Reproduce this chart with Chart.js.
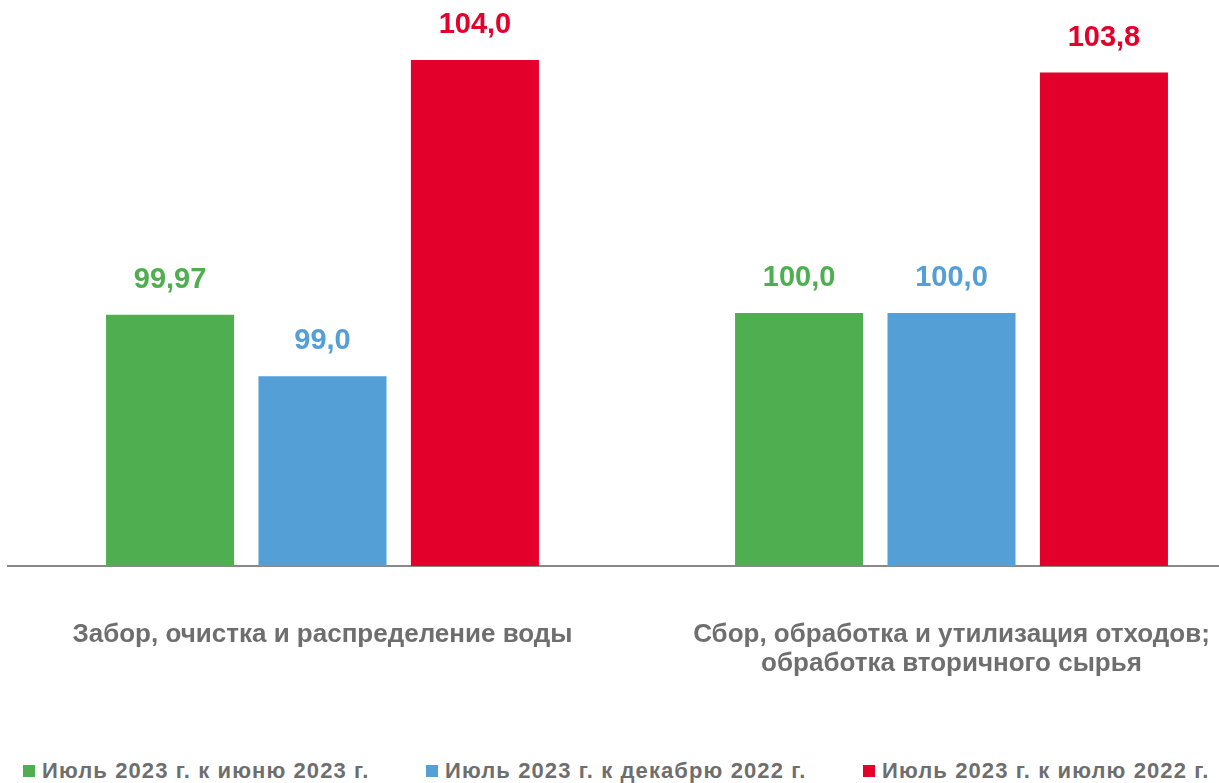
<!DOCTYPE html>
<html>
<head>
<meta charset="utf-8">
<script src="https://cdn.jsdelivr.net/npm/chart.js@4/dist/chart.umd.min.js"></script>
<style>
  html, body { margin: 0; padding: 0; background: #fff; }
  #wrap { position: relative; width: 1219px; height: 783px; overflow: hidden; }
  #box { position: absolute; left: 0; top: 0; width: 1266px; height: 700px; }
  .leg { position: absolute; top: 760px; line-height: 22px; font: bold 22px/22px "Liberation Sans", Arial, sans-serif; letter-spacing: 1.1px; color: #6e6e6e; white-space: nowrap; }
  .leg i { display: inline-block; width: 12px; height: 12px; margin-right: 7px; vertical-align: 1px; }
</style>
</head>
<body>
<div id="wrap">
  <div id="box"><canvas id="barChart"></canvas></div>
  <div id="legend"></div>
</div>
<script>
// --- data ---
const categories = [
    'Забор, очистка и распределение воды',
    ['Сбор, обработка и утилизация отходов;', 'обработка вторичного сырья']
];
const seriesNames = [
    'Июль 2023 г. к июню 2023 г.',
    'Июль 2023 г. к декабрю 2022 г.',
    'Июль 2023 г. к июлю 2022 г.'
];
const toJune2023 = [99.97, 100.0];
const toDec2022 = [99.0, 100.0];
const toJuly2022 = [104.0, 103.8];
const colors = ['#4faf50', '#539fd6', '#e3002b'];

const FONT = '"Liberation Sans", Arial, sans-serif';

// number like 99,97 / 104,0
const fmt = (v) => {
    const d = Math.round(v * 10) === v * 10 ? 1 : 2;
    return v.toFixed(d).replace('.', ',');
};

// values above bars
const valueLabels = {
    id: 'valueLabels',
    afterDatasetsDraw(chart) {
        const ctx = chart.ctx;
        ctx.save();
        ctx.font = 'bold 29px ' + FONT;
        ctx.textAlign = 'center';
        ctx.textBaseline = 'alphabetic';
        chart.data.datasets.forEach((ds, i) => {
            chart.getDatasetMeta(i).data.forEach((bar, j) => {
                ctx.fillStyle = ds.backgroundColor;
                ctx.fillText(fmt(ds.data[j]), bar.x, bar.y - 27);
            });
        });
        ctx.restore();
    }
};

const seriesData = [toJune2023, toDec2022, toJuly2022];

new Chart(document.getElementById('barChart'), {
    type: 'bar',
    data: {
        labels: categories,
        datasets: seriesData.map((d, i) => ({
            label: seriesNames[i],
            data: d,
            backgroundColor: colors[i],
            categoryPercentage: 0.727,
            barPercentage: 0.84
        }))
    },
    options: {
        responsive: true,
        maintainAspectRatio: false,
        animation: false,
        layout: { padding: { left: 8, right: 0, top: 3, bottom: 0 } },
        plugins: {
            legend: { display: false },
            tooltip: { enabled: false }
        },
        scales: {
            y: {
                display: false,
                min: 96,
                max: 104.9
            },
            x: {
                grid: { display: false, drawTicks: false },
                border: { display: true, color: '#898989', width: 2 },
                ticks: {
                    color: '#6e6e6e',
                    font: { family: FONT, size: 26, weight: 'bold', lineHeight: 1.12 },
                    padding: 54,
                    maxRotation: 0,
                    autoSkip: false
                },
                afterFit: (axis) => { axis.height = 134; }
            }
        }
    },
    plugins: [valueLabels]
});

// legend (spaced like the original)
const legLeft = [23, 426, 863];
const legend = document.getElementById('legend');
seriesNames.forEach((name, i) => {
    const el = document.createElement('div');
    el.className = 'leg';
    el.style.left = legLeft[i] + 'px';
    el.innerHTML = '<i style="background:' + colors[i] + '"></i>' + name;
    legend.appendChild(el);
});
</script>
</body>
</html>
